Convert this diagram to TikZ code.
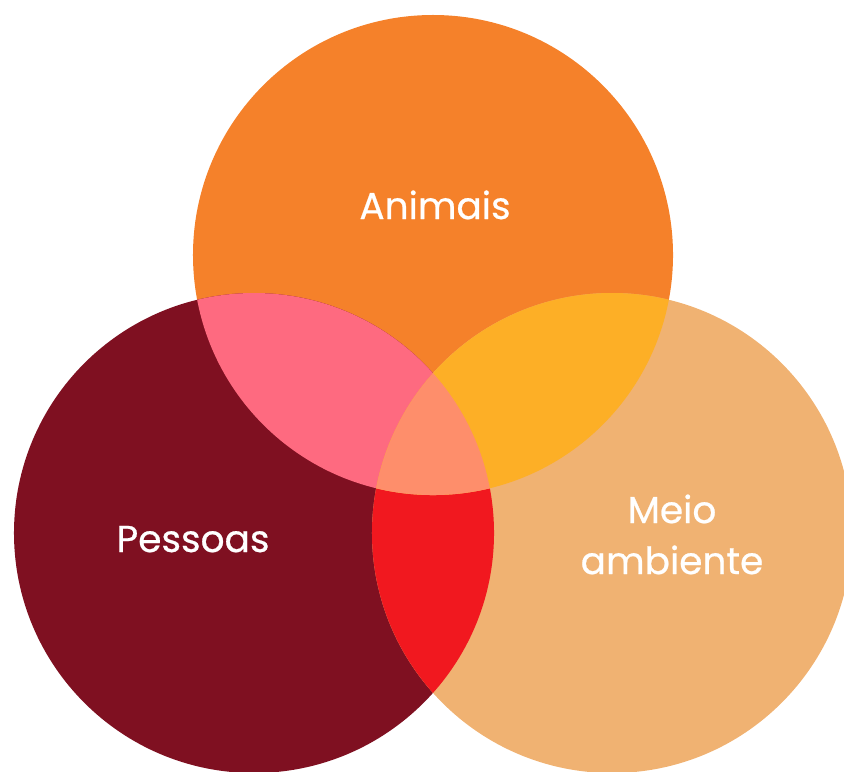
\documentclass[tikz,border=0pt]{standalone}
\usepackage{fontspec}
\setmainfont{Poppins}[FakeBold=0.6]
\definecolor{animaiscol}{HTML}{F5812A}
\definecolor{pessoascol}{HTML}{7F1021}
\definecolor{meiocol}{HTML}{F0B272}
\definecolor{apcol}{HTML}{FE6A80}
\definecolor{amcol}{HTML}{FDAF26}
\definecolor{pmcol}{HTML}{F1181F}
\definecolor{apmcol}{HTML}{FE8E6B}
\tikzset{
  lbl/.style = {text = white, font = \fontsize{32}{43.5}\selectfont, inner sep = 0pt}
}

\begin{document}
\begin{tikzpicture}[x = 0.03cm, y = -0.03cm]
    \useasboundingbox (0,0) rectangle (844,771);

    \coordinate (animais) at (433,255);
    \coordinate (pessoas) at (254,533);
    \coordinate (meio) at (612,533);
    \def\rr{7.2cm}

    % the three circles
    \fill[animaiscol] (animais) circle[radius = \rr];
    \fill[pessoascol] (pessoas) circle[radius = \rr];
    \fill[meiocol] (meio) circle[radius = \rr];

    % pessoas and meio
    \begin{scope}
        \clip (pessoas) circle[radius = \rr];
        \fill[pmcol] (meio) circle[radius = \rr];
    \end{scope}

    % overlaps with animais
    \begin{scope}
        \clip (animais) circle[radius = \rr];
        \fill[apcol] (pessoas) circle[radius = \rr];
        \fill[amcol] (meio) circle[radius = \rr];
        \clip (pessoas) circle[radius = \rr];
        \fill[apmcol] (meio) circle[radius = \rr];
    \end{scope}

    \node[lbl, anchor = base] (lanimais) at (435,219) {Animais};
    \node[lbl, anchor = base] (lpessoas) at (193,552) {Pessoas};
    \node[lbl, anchor = base, align = center] (lmeio) at (672,574) {Meio\\ambiente};
\end{tikzpicture}
\end{document}
